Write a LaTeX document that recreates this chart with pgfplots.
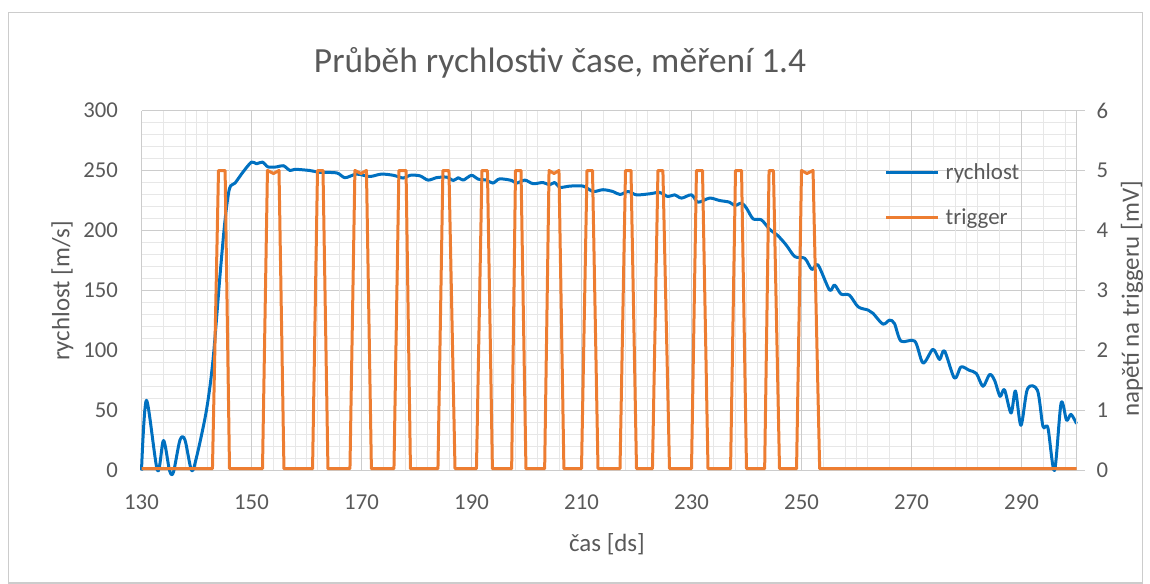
\documentclass[border=0pt]{standalone}
\usepackage{fontspec}
\setmainfont{Carlito}
\usepackage{pgfplots}
\pgfplotsset{compat=1.18}

\definecolor{txt}{HTML}{595959}
\definecolor{gridmaj}{HTML}{CCCCCC}
\definecolor{gridmin}{HTML}{E7E7E7}
\definecolor{rblue}{HTML}{0070C0}
\definecolor{torange}{HTML}{ED7D31}

\pgfplotsset{
  common/.style={
    at={(141.5bp,-470.5bp)}, anchor=south west,
    scale only axis, width=935bp, height=360bp,
    xmin=130, xmax=300, clip=false,
    /pgf/number format/assume math mode=true,
    ticklabel style={font=\fontsize{22.8}{26}\selectfont, text=txt},
    major tick length=0pt, minor tick length=0pt,
  },
  gridonly/.style={
    common, ymin=0, ymax=300,
    axis line style={draw=none},
    xticklabels={}, yticklabels={},
  },
}

\begin{document}
\begin{tikzpicture}
\path[use as bounding box] (0bp,0bp) rectangle (1150bp,-584bp);
\draw[gridmaj, line width=1.2bp] (8.5bp,-12.5bp) rectangle (1142.5bp,-583bp);

% horizontal grid lines
\begin{axis}[
  gridonly,
  xtick=\empty,
  ytick={0,50,...,300},
  minor ytick={10,20,...,290},
  ymajorgrids, yminorgrids,
  major grid style={draw=gridmaj, line width=1.8bp},
  minor grid style={draw=gridmin, line width=1.6bp},
]
\end{axis}

% light vertical grid lines
\begin{axis}[
  gridonly,
  ytick=\empty,
  xtick={134,138,140,142,146,154,158,160,162,166,174,178,180,182,186,
         194,198,200,202,206,214,218,220,222,226,234,238,240,242,246,
         254,258,260,262,266,274,278,280,282,286,294,298},
  xmajorgrids,
  major grid style={draw=gridmin, line width=1.6bp},
]
\end{axis}

% primary axis: rychlost
\begin{axis}[
  common,
  ymin=0, ymax=300,
  axis x line*=bottom, axis y line*=left,
  x axis line style={draw=gridmaj, line width=1.8bp},
  y axis line style={draw=none},
  xtick={130,150,...,290},
  ytick={0,50,...,300},
  xmajorgrids,
  major grid style={draw=gridmaj, line width=1.8bp},
  xticklabel style={anchor=base, inner sep=0pt, yshift=-39bp},
  yticklabel style={anchor=east, inner sep=0pt, xshift=-23.5bp},
]
\addplot[rblue, line width=3bp, smooth, tension=0.5, line join=round] coordinates {
(130,0) (130.9,58.5) (132.9,0) (134.0,25) (135.1,0) (135.8,-1.5) (137.0,25.5)
(137.9,25.5) (139.1,0) (140.0,11) (141.8,50) (143.0,92) (144.3,164) (145.2,209)
(146.0,235) (147.0,239.5) (148.5,249) (150.0,257) (150.9,255.6) (152.0,257)
(153.0,253) (154.6,253) (155.8,254) (157.0,250) (157.9,251) (160.6,250)
(162.4,248.5) (165.5,248) (167.0,244) (169.1,247) (171.5,245) (173.6,247)
(175.8,246) (177.6,243.7) (178.8,246) (180.6,245.6) (182.1,242) (183.6,244)
(185.5,244.5) (186.7,241.7) (187.6,244) (188.5,242) (190.0,246) (191.2,242.8)
(192.7,242) (193.9,239.5) (195.1,243) (197.3,241.7) (198.2,239.5) (199.7,242)
(201.2,239) (203.0,240) (204.2,238) (205.1,240) (206.1,236) (207.9,237)
(210.3,237) (212.1,232.5) (213.9,234) (215.7,232.5) (217.0,230) (218.5,232.5)
(220.0,229.7) (222.4,230.6) (224.2,231.7) (225.7,228.3) (226.9,229.7)
(228.2,227) (230.0,229.7) (231.2,223.6) (233.3,227) (235.1,225) (236.9,223.6)
(237.9,220.8) (239.1,222.8) (240.0,218.6) (241.2,209.7) (242.7,208.9)
(244.2,201) (245.7,195.7) (247.2,188) (248.8,178.2) (250.6,176.8) (251.9,167.5)
(253.0,171.3) (255.1,150.4) (256.0,154.6) (257.2,147) (258.7,146.2)
(260.3,136.4) (262.1,133.7) (263.0,131) (264.8,122) (266.0,125.3) (266.9,122.5)
(268.1,107.8) (270.6,107.8) (272.1,89.6) (273.9,101) (275.1,92.5) (276.0,99.7)
(277.8,77) (279.0,86.3) (280.5,83.5) (281.8,80.8) (283.0,70.2) (284.2,80)
(285.1,75.2) (286.1,61.8) (286.9,67.4) (288.1,47.9) (288.9,66.3) (289.9,37.6)
(291.1,68.2) (292.9,66.8) (293.9,36.8) (294.8,35.6) (296.0,0) (297.2,56.2)
(298.2,41.8) (299.0,46.8) (300.0,39)
};
\end{axis}

% secondary axis: trigger
\begin{axis}[
  common,
  ymin=0, ymax=6,
  axis x line=none,
  axis y line*=right,
  y axis line style={draw=gridmaj, line width=1.8bp},
  ytick={0,1,...,6},
  ytick style={draw=gridmaj, line width=1.8bp},
  major tick length=8bp, tick align=outside,
  yticklabel style={anchor=west, inner sep=0pt, xshift=12bp},
  legend style={
    at={(0.7947,0.7655)}, anchor=west,
    draw=none, fill=none, inner sep=0pt,
    font=\fontsize{23}{26}\selectfont, text=txt,
    nodes={inner sep=0pt}, column sep=6bp, row sep=28bp,
  },
  legend cell align=left,
  legend image code/.code={\draw[#1] (0bp,0bp) -- (52bp,0bp);},
]
\addlegendimage{rblue, line width=3bp}
\addlegendentry{rychlost}
\addplot[torange, line width=3bp, line join=round] coordinates {
(130,0.03) (142.9,0.03) (144.0,5) (145.2,5) (146.0,0.03)
(152.0,0.03) (152.9,5) (154.0,4.95) (155.0,5) (155.9,0.03)
(161.1,0.03) (162.0,5) (163.0,5) (163.9,0.03)
(167.9,0.03) (168.8,5) (169.9,4.95) (170.9,5) (171.8,0.03)
(175.9,0.03) (176.8,5) (178.1,5) (178.9,0.03)
(183.9,0.03) (184.8,5) (185.9,5) (187.0,0.03)
(190.9,0.03) (191.9,5) (192.9,5) (193.8,0.03)
(197.3,0.03) (198.0,5) (199.0,5) (199.9,0.03)
(203.3,0.03) (204.1,5) (205.0,4.95) (205.9,5) (206.8,0.03)
(210.0,0.03) (211.0,5) (212.0,5) (213.0,0.03)
(217.0,0.03) (218.0,5) (219.0,5) (220.0,0.03)
(222.9,0.03) (223.9,5) (224.8,5) (226.0,0.03)
(230.0,0.03) (230.9,5) (232.0,5) (233.0,0.03)
(237.1,0.03) (238.0,5) (239.1,5) (240.0,0.03)
(243.3,0.03) (244.1,5) (244.9,5) (246.0,0.03)
(249.1,0.03) (250.0,5) (251.0,4.95) (252.1,5) (253.3,0.03)
(300,0.03)
};
\addlegendentry{trigger}
\end{axis}

\node[anchor=base, text=txt, font=\fontsize{35.5}{40}\selectfont]
  at (560bp,-72bp) {Průběh rychlostiv čase, měření 1.4};
\node[rotate=90, text=txt, font=\fontsize{25}{28}\selectfont]
  at (62.5bp,-291bp) {rychlost [m/s]};
\node[rotate=90, text=txt, font=\fontsize{25}{28}\selectfont]
  at (1132bp,-299bp) {napětí na triggeru [mV]};
\node[anchor=base, text=txt, font=\fontsize{25}{28}\selectfont]
  at (607bp,-551bp) {čas [ds]};
\end{tikzpicture}
\end{document}
